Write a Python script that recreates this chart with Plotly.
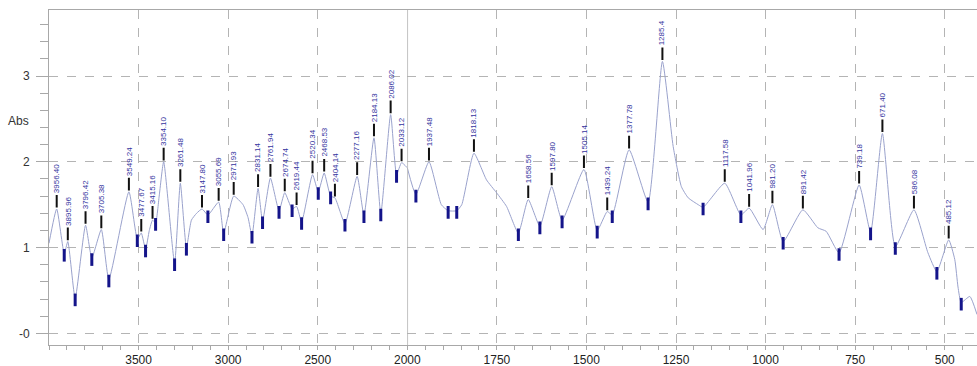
import plotly.graph_objects as go

# ---- spectrum, high-wavenumber part (4000-2000 cm-1, compressed scale) ----
wn_hi = [4000, 3957, 3915, 3895, 3854, 3796, 3761, 3708, 3666, 3554, 3507, 3485, 3461, 3440,
         3422, 3405, 3385, 3360, 3299, 3267, 3233, 3205, 3176, 3146, 3113, 3053, 3025, 2969,
         2917, 2889, 2867, 2833, 2808, 2764, 2716, 2684, 2643, 2618, 2590, 2529, 2497, 2464,
         2428, 2404, 2348, 2280, 2242, 2186, 2148, 2093, 2060, 2032, 2000]
abs_hi = [1.05, 1.45, 0.93, 1.07, 0.41, 1.26, 0.88, 1.21, 0.63, 1.65, 1.10, 1.17, 0.98, 1.20,
          1.32, 1.29, 1.60, 2.00, 0.82, 1.75, 1.00, 1.32, 1.40, 1.45, 1.38, 1.53, 1.17, 1.60,
          1.50, 1.35, 1.14, 1.69, 1.31, 1.81, 1.43, 1.64, 1.45, 1.48, 1.30, 1.85, 1.65, 1.87,
          1.60, 1.58, 1.28, 1.83, 1.38, 2.28, 1.40, 2.55, 1.85, 1.99, 1.93]

# ---- spectrum, low-wavenumber part (2000-410 cm-1, expanded scale) ----
wn_lo = [2000, 1976, 1939.5, 1905, 1886, 1862, 1848, 1814, 1779, 1751, 1723, 1690, 1662.5, 1630,
         1597, 1568, 1507, 1470, 1442, 1428, 1381, 1328, 1288, 1258, 1235, 1216, 1188, 1174.5,
         1114, 1069, 1046, 1007, 981, 951, 896, 854, 831, 795, 739, 707, 674, 638, 586, 547,
         522, 489, 472, 463, 454, 430, 410]
abs_lo = [1.93, 1.62, 2.00, 1.50, 1.43, 1.43, 1.50, 2.10, 1.79, 1.64, 1.48, 1.17, 1.56, 1.25,
          1.71, 1.32, 1.91, 1.20, 1.42, 1.38, 2.14, 1.53, 3.17, 2.18, 1.71, 1.58, 1.50, 1.47,
          1.75, 1.38, 1.46, 1.21, 1.50, 1.07, 1.44, 1.23, 1.19, 0.94, 1.73, 1.18, 2.33, 1.01,
          1.44, 0.94, 0.72, 1.09, 0.86, 0.54, 0.36, 0.43, 0.22]

# ---- labelled peaks ----
peaks_hi = [3957, 3895, 3796, 3708, 3554, 3485, 3422, 3360, 3267, 3146, 3053, 2969, 2833, 2764,
            2684, 2618, 2529, 2464, 2404, 2280, 2186, 2093, 2032]
labels_hi = ["3956.40", "3895.96", "3796.42", "3705.38", "3549.24", "3477.67", "3415.16",
             "3354.10", "3261.48", "3147.80", "3055.69", "2971.93", "2831.14", "2761.94",
             "2674.74", "2619.44", "2520.34", "2468.53", "2404.14", "2277.16", "2184.13",
             "2086.02", "2033.12"]
peaks_lo = [1939.5, 1814, 1662.5, 1597, 1507, 1442, 1381, 1288, 1114, 1046, 981, 896, 739, 674,
            586, 489]
labels_lo = ["1937.48", "1818.13", "1658.56", "1597.80", "1505.14", "1439.24", "1377.78",
             "1285.4", "1117.58", "1041.96", "981.20", "891.42", "739.18", "671.40", "586.08",
             "485.12"]

# ---- marked valleys ----
valleys_hi = [3915, 3854, 3761, 3666, 3507, 3461, 3405, 3299, 3233, 3113, 3025, 2867, 2808, 2716,
              2643, 2590, 2497, 2428, 2348, 2242, 2148, 2060]
valleys_lo = [1976, 1886, 1862, 1690, 1630, 1568, 1470, 1428, 1328, 1174.5, 1069, 951, 795, 707,
              638, 522, 454]

# ---- axis ticks ----
xticks_hi = [3500, 3000, 2500]
xticks_lo = [2000, 1750, 1500, 1250, 1000, 750, 500]
yticks = [0, 1, 2, 3]
ytick_text = ["-0", "1", "2", "3"]

LINE_COL = "#9aa2cc"
VALLEY_COL = "#14148a"
LABEL_COL = "#3434a0"
GRID_COL = "#b4b4b4"
AX_COL = "#a8a8a8"

fig = go.Figure()


def add_part(wn, ab, peaks, labels, valleys, xref):
    lookup = dict(zip(wn, ab))
    fig.add_trace(go.Scatter(x=wn, y=ab, mode="lines", xaxis=xref, yaxis="y",
                             line=dict(color=LINE_COL, width=1, shape="spline", smoothing=0.5),
                             hoverinfo="skip", showlegend=False))
    fig.add_trace(go.Scatter(x=valleys, y=[lookup[v] - 0.02 for v in valleys], mode="markers",
                             xaxis=xref, yaxis="y", showlegend=False, hoverinfo="skip",
                             marker=dict(symbol="line-ns", size=9,
                                         line=dict(color=VALLEY_COL, width=3))))
    fig.add_trace(go.Scatter(x=peaks, y=[lookup[p] + 0.09 for p in peaks], mode="markers",
                             xaxis=xref, yaxis="y", showlegend=False, hoverinfo="skip",
                             marker=dict(symbol="line-ns", size=9,
                                         line=dict(color="#111111", width=2))))
    for p, t in zip(peaks, labels):
        fig.add_annotation(x=p, y=lookup[p], xref=xref, yref="y", text=t, showarrow=False,
                           textangle=-90, xanchor="center", yanchor="bottom", yshift=14,
                           font=dict(family="Liberation Sans, Arial", size=8, color=LABEL_COL))


add_part(wn_hi, abs_hi, peaks_hi, labels_hi, valleys_hi, "x")
add_part(wn_lo, abs_lo, peaks_lo, labels_lo, valleys_lo, "x2")

split = (407.3 - 49) / (977 - 49)

common_x = dict(showgrid=True, gridcolor=GRID_COL, griddash="dash", gridwidth=1,
                showline=True, linecolor=AX_COL, linewidth=1, mirror=True,
                ticks="outside", ticklen=4, tickcolor=AX_COL, zeroline=False,
                tickfont=dict(family="Liberation Sans, Arial", size=12, color="#222"),
                tickmode="array")

fig.update_layout(
    width=977, height=366,
    margin=dict(l=49, r=0, t=10, b=21),
    paper_bgcolor="white", plot_bgcolor="white",
    xaxis=dict(domain=[0, split], range=[4000, 2000], tickvals=xticks_hi,
               ticktext=[str(v) for v in xticks_hi],
               minor=dict(dtick=100, ticks="outside", ticklen=4, tickcolor=AX_COL, showgrid=False),
               anchor="y", **common_x),
    xaxis2=dict(domain=[split, 1], range=[2000, 410], tickvals=xticks_lo,
                ticktext=[str(v) for v in xticks_lo],
                minor=dict(dtick=50, ticks="outside", ticklen=4, tickcolor=AX_COL, showgrid=False),
                anchor="y", **common_x),
    yaxis=dict(range=[-0.136, 3.77], tickmode="array", tickvals=yticks, ticktext=ytick_text,
               showgrid=True, gridcolor=GRID_COL, griddash="dash", gridwidth=1,
               showline=True, linecolor=AX_COL, linewidth=1, zeroline=False,
               ticks="outside", ticklen=12, tickcolor=AX_COL, ticklabelstandoff=4,
               minor=dict(dtick=0.2, ticks="outside", ticklen=8, tickcolor=AX_COL, showgrid=False),
               tickfont=dict(family="Liberation Sans, Arial", size=12, color="#333"),
               anchor="x"),
)

# solid divider at 2000 cm-1 (scale break)
fig.add_shape(type="line", xref="x2", yref="paper", x0=2000, x1=2000, y0=0, y1=1,
              line=dict(color="#b0b0b0", width=1.5))

fig.add_annotation(x=-0.0334, y=0.6687, xref="paper", yref="paper", text="Abs",
                   showarrow=False, xanchor="center", yanchor="middle",
                   font=dict(family="Liberation Sans, Arial", size=12, color="#333"))

fig.write_html("out.html", config={"displayModeBar": False},
               post_script="document.body.style.margin='0';")
